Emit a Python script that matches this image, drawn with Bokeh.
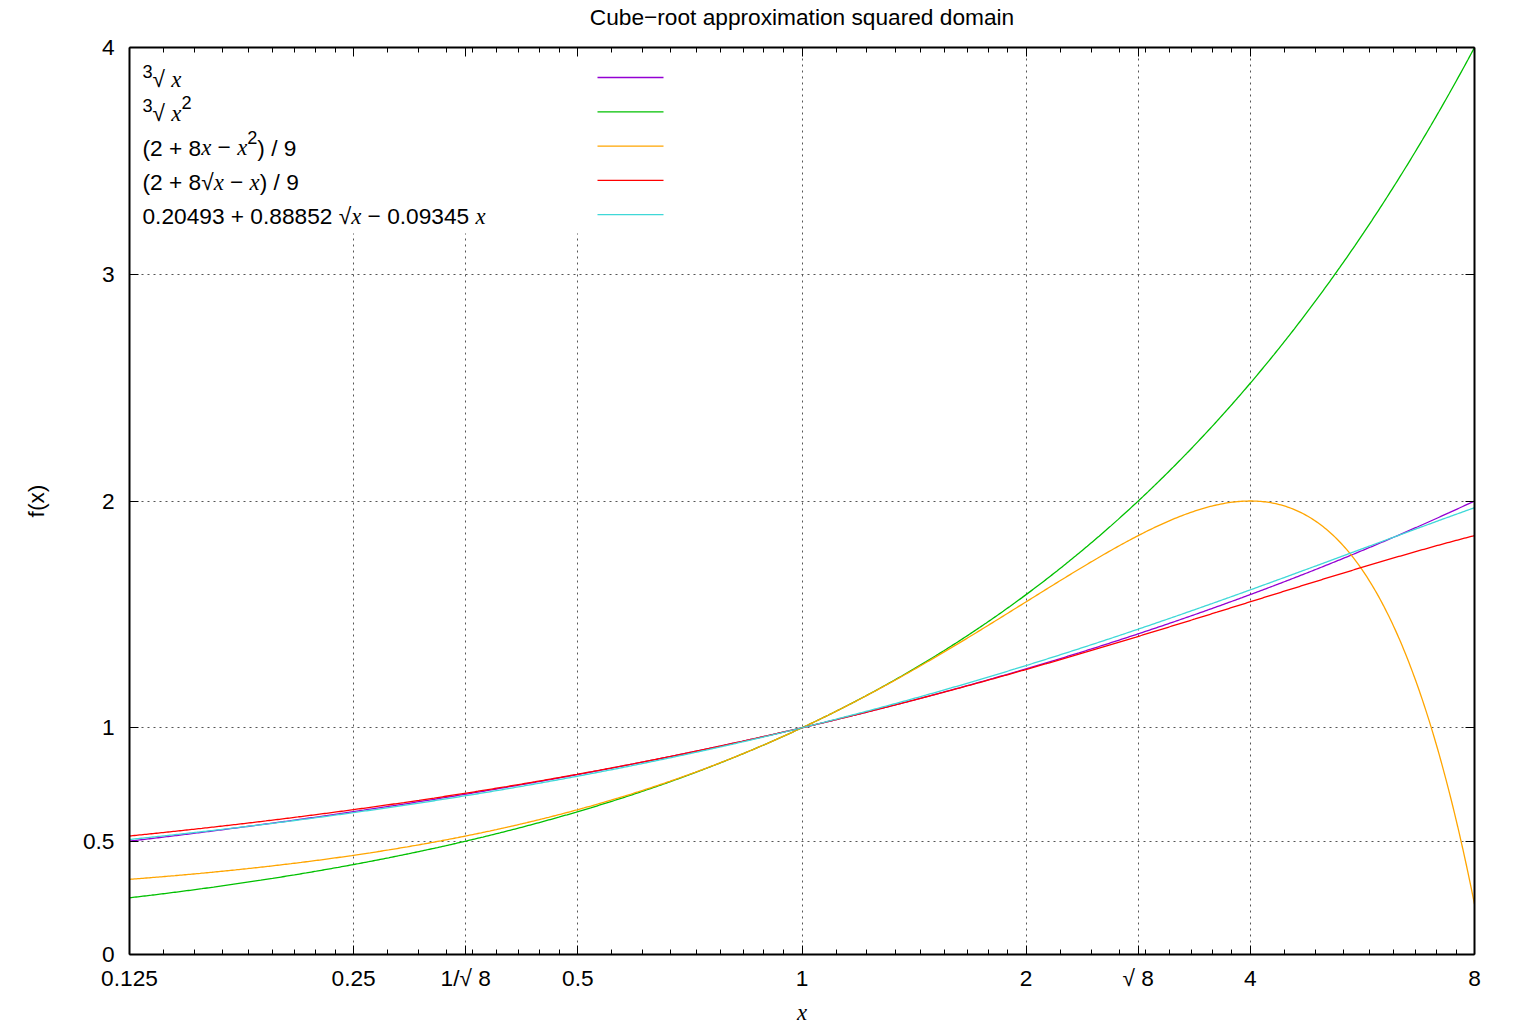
import numpy as np
from bokeh.plotting import figure
from bokeh.models import (FixedTicker, LogAxis, LinearAxis, CustomJSTickFormatter,
                          Label, BoxAnnotation, Range1d)
from bokeh.embed import file_html
from bokeh.resources import INLINE

# ---------------- data ----------------
title_text = "Cube\u2212root approximation squared domain"
x_range_vals = [0.125, 8.0]
y_range_vals = [0.0, 4.0]
x_tick_values = [0.125, 0.25, 1 / np.sqrt(8), 0.5, 1.0, 2.0, np.sqrt(8), 4.0, 8.0]
x_tick_labels = ["0.125", "0.25", "1/\u221a 8", "0.5", "1", "2", "\u221a 8", "4", "8"]
x_octave_starts = [0.125, 0.25, 0.5, 1.0, 2.0, 4.0]
y_tick_values = [0.0, 0.5, 1.0, 2.0, 3.0, 4.0]
y_tick_labels = ["0", "0.5", "1", "2", "3", "4"]

series_colors = ["#9400d3", "#00c000", "#ffa500", "#ff0000", "#3fd8d8"]
# curves are the functions named in the legend
quad_coeffs = [2.0, 8.0, -1.0, 9.0]          # (2 + 8x - x^2) / 9
sqrt_coeffs = [2.0, 8.0, -1.0, 9.0]          # (2 + 8 sqrt(x) - x) / 9
fit_coeffs = [0.20493, 0.88852, -0.09345]    # a + b sqrt(x) + c x

xs = np.geomspace(x_range_vals[0], x_range_vals[1], 800)
series_y = [
    np.cbrt(xs),
    np.cbrt(xs ** 2),
    (quad_coeffs[0] + quad_coeffs[1] * xs + quad_coeffs[2] * xs ** 2) / quad_coeffs[3],
    (sqrt_coeffs[0] + sqrt_coeffs[1] * np.sqrt(xs) + sqrt_coeffs[2] * xs) / sqrt_coeffs[3],
    fit_coeffs[0] + fit_coeffs[1] * np.sqrt(xs) + fit_coeffs[2] * xs,
]

# ---------------- layout ----------------
FONT = "Liberation Sans"
SERIF = "Liberation Serif"
FS = 22.7
FL, FR, FT, FB = 129, 1474, 47, 954   # frame in page px

def x_of_px(px):
    return x_range_vals[0] * (x_range_vals[1] / x_range_vals[0]) ** ((px - FL) / (FR - FL))

def y_of_px(py):
    return y_range_vals[0] + (y_range_vals[1] - y_range_vals[0]) * (FB - py) / (FB - FT)

p = figure(x_axis_type="log", output_backend="svg", toolbar_location=None,
           x_range=Range1d(*x_range_vals), y_range=Range1d(*y_range_vals),
           frame_width=FR - FL, frame_height=FB - FT,
           min_border_left=FL, min_border_top=FT,
           min_border_right=1528 - FR, min_border_bottom=1020 - FB)
p.outline_line_color = None
p.background_fill_color = "white"
p.border_fill_color = "white"

x_minor = [a * (1 + k / 9) for a in x_octave_starts for k in range(1, 9)]
xticker = FixedTicker(ticks=x_tick_values, minor_ticks=x_minor)
yticker = FixedTicker(ticks=y_tick_values)

xfmt = CustomJSTickFormatter(args=dict(tv=x_tick_values, tl=x_tick_labels), code="""
let best = 0, bd = 1e9;
for (let i = 0; i < tv.length; i++) {
  const d = Math.abs(Math.log(tick / tv[i]));
  if (d < bd) { bd = d; best = i; }
}
return tl[best];
""")
yfmt = CustomJSTickFormatter(args=dict(tv=y_tick_values, tl=y_tick_labels), code="""
let best = 0, bd = 1e9;
for (let i = 0; i < tv.length; i++) {
  const d = Math.abs(tick - tv[i]);
  if (d < bd) { bd = d; best = i; }
}
return tl[best];
""")
empty = CustomJSTickFormatter(code="return '';")

def style_axis(ax):
    ax.axis_line_width = 2
    ax.axis_line_color = "black"
    ax.major_tick_in = 9
    ax.major_tick_out = 0
    ax.minor_tick_in = 5
    ax.minor_tick_out = 0
    ax.major_tick_line_color = "black"
    ax.minor_tick_line_color = "black"
    ax.major_tick_line_width = 1
    ax.minor_tick_line_width = 1
    ax.major_label_text_font = FONT
    ax.major_label_text_font_size = f"{FS}px"
    ax.major_label_text_color = "black"

xa = p.xaxis[0]
xa.ticker = xticker
xa.formatter = xfmt
style_axis(xa)
xa.major_label_standoff = 10
xa.axis_label = "x"
xa.axis_label_text_font = SERIF
xa.axis_label_text_font_style = "italic"
xa.axis_label_text_font_size = f"{FS}px"
xa.axis_label_text_color = "black"
xa.axis_label_standoff = 6

ya = p.yaxis[0]
ya.ticker = yticker
ya.formatter = yfmt
style_axis(ya)
ya.major_label_standoff = 15
ya.axis_label = "f(x)"
ya.axis_label_text_font = FONT
ya.axis_label_text_font_style = "normal"
ya.axis_label_text_font_size = f"{FS}px"
ya.axis_label_text_color = "black"
ya.axis_label_standoff = 31

# top mirror axis carries the plot title as its label
top = LogAxis(ticker=xticker, formatter=empty)
style_axis(top)
top.major_label_text_font_size = "1px"
top.major_label_standoff = 0
top.axis_label = title_text
top.axis_label_text_font = FONT
top.axis_label_text_font_style = "normal"
top.axis_label_text_font_size = f"{FS}px"
top.axis_label_text_color = "black"
top.axis_label_text_line_height = 0.8
top.axis_label_standoff = 18
p.add_layout(top, "above")
right = LinearAxis(ticker=yticker, formatter=empty)
style_axis(right)
right.major_label_text_font_size = "1px"
right.major_label_standoff = 0
p.add_layout(right, "right")

for g, t in ((p.xgrid[0], xticker), (p.ygrid[0], yticker)):
    g.ticker = t
    g.grid_line_color = "#555555"
    g.grid_line_width = 1
    g.grid_line_dash = "2 4"
    g.minor_grid_line_color = None

# opaque key background (hides grid behind the key)
p.add_layout(BoxAnnotation(left=x_range_vals[0], right=x_of_px(672), top=y_range_vals[1],
                           bottom=y_of_px(233), fill_color="white", fill_alpha=1,
                           line_color=None, level="underlay"))

for ys, c in zip(series_y, series_colors):
    p.line(xs, ys, line_color=c, line_width=1.3)

# ---------------- key ----------------
W_SANS = {'.': 0.278, ' ': 0.278, '+': 0.584, '\u2212': 0.584, '(': 0.333, ')': 0.333,
          '/': 0.278, '\u221a': 0.549}
def width(s, kind):
    if kind == "i":
        return 0.444 * FS * len(s)
    size = FS * (0.8 if kind.startswith("s") else 1.0)
    return sum(W_SANS.get(ch, 0.556) for ch in s) * size

def style_of(kind):
    if kind == "i":
        return SERIF, "italic", FS, 0
    if kind == "s3":
        return FONT, "normal", FS * 0.8, 8
    if kind == "s2":
        return FONT, "normal", FS * 0.8, 10.5
    return FONT, "normal", FS, 0

key_rows = [
    [("3", "s3"), ("\u221a ", "n"), ("x", "i")],
    [("3", "s3"), ("\u221a ", "n"), ("x", "i"), ("2", "s2")],
    [("(2 + 8", "n"), ("x", "i"), (" \u2212 ", "n"), ("x", "i"), ("2", "s2"), (") / 9", "n")],
    [("(2 + 8\u221a", "n"), ("x", "i"), (" \u2212 ", "n"), ("x", "i"), (") / 9", "n")],
    [("0.20493 + 0.88852 \u221a", "n"), ("x", "i"), (" \u2212 0.09345 ", "n"), ("x", "i")],
]
row_y = [77, 111.3, 145.6, 179.9, 214.2]
for pieces, yc, c in zip(key_rows, row_y, series_colors):
    base = yc + 1.6
    px = 142.0
    for txt, kind in pieces:
        font, style, size, raise_ = style_of(kind)
        lead = len(txt) - len(txt.lstrip())
        p.add_layout(Label(x=x_of_px(px + width(txt[:lead], kind)), y=y_of_px(base - raise_),
                           text=txt.strip(), text_font=font, text_font_style=style,
                           text_font_size=f"{size:.1f}px", text_color="black",
                           text_align="left", text_baseline="alphabetic"))
        px += width(txt, kind)
    p.add_layout(BoxAnnotation(left=x_of_px(597), right=x_of_px(663),
                               top=y_of_px(yc - 0.65), bottom=y_of_px(yc + 0.65),
                               fill_color=c, fill_alpha=1, line_color=None))

open("out.html", "w").write(file_html(p, INLINE))
